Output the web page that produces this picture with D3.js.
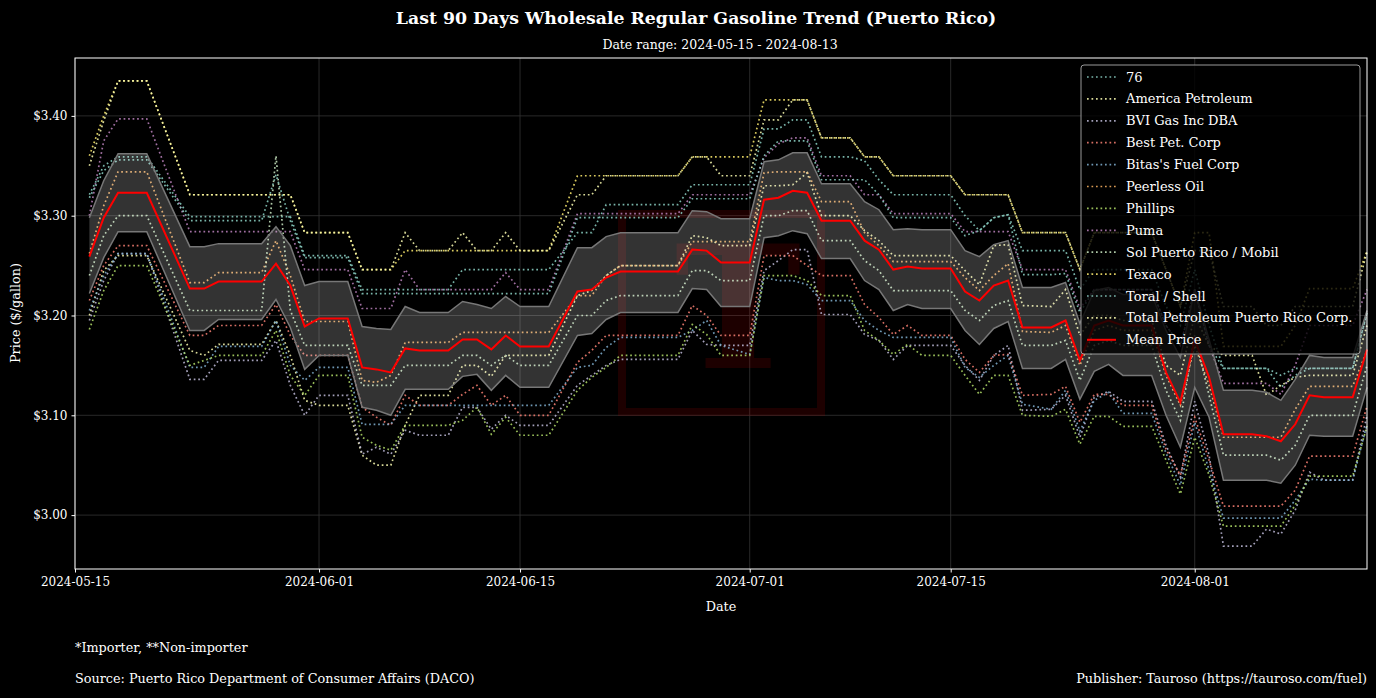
<!DOCTYPE html>
<html>
<head>
<meta charset="utf-8">
<script src="https://d3js.org/d3.v7.min.js"></script>
<style>
  body { margin: 0; background: #000; }
  svg { display: block; font-family: "DejaVu Serif", serif; }
</style>
</head>
<body>
<svg id="chart" width="1376" height="698"></svg>
<script>
// report dates (one row of values per date)
const dates = [
  "2024-05-16","2024-05-17","2024-05-18","2024-05-20","2024-05-23","2024-05-24","2024-05-25","2024-05-28","2024-05-29","2024-05-30",
  "2024-05-31","2024-06-01","2024-06-03","2024-06-04","2024-06-05","2024-06-06","2024-06-07","2024-06-08","2024-06-10","2024-06-11",
  "2024-06-12","2024-06-13","2024-06-14","2024-06-15","2024-06-17","2024-06-19","2024-06-20","2024-06-21","2024-06-22","2024-06-26",
  "2024-06-27","2024-06-28","2024-06-29","2024-07-01","2024-07-02","2024-07-03","2024-07-04","2024-07-05","2024-07-06","2024-07-08",
  "2024-07-09","2024-07-10","2024-07-11","2024-07-12","2024-07-13","2024-07-15","2024-07-16","2024-07-17","2024-07-18","2024-07-19",
  "2024-07-20","2024-07-22","2024-07-23","2024-07-24","2024-07-25","2024-07-26","2024-07-27","2024-07-29","2024-07-30","2024-07-31",
  "2024-08-01","2024-08-02","2024-08-03","2024-08-05","2024-08-06","2024-08-07","2024-08-08","2024-08-09","2024-08-10","2024-08-12",
  "2024-08-13"
];

const meanPrice = [
  3.259,3.298,3.323,3.323,3.227,3.227,3.234,3.234,3.252,3.230,
  3.189,3.197,3.197,3.148,3.146,3.143,3.167,3.165,3.165,3.176,
  3.176,3.166,3.180,3.169,3.169,3.224,3.226,3.238,3.244,3.244,
  3.266,3.265,3.253,3.253,3.316,3.318,3.325,3.323,3.295,3.295,
  3.275,3.266,3.246,3.249,3.247,3.247,3.224,3.215,3.230,3.235,
  3.188,3.188,3.195,3.155,3.190,3.195,3.190,3.190,3.143,3.113,
  3.176,3.138,3.081,3.081,3.079,3.074,3.091,3.120,3.118,3.118,
  3.166
];
// mean + std / mean - std
const bandHigh = [
  3.298,3.335,3.362,3.362,3.269,3.269,3.272,3.272,3.289,3.270,
  3.230,3.234,3.234,3.189,3.187,3.186,3.209,3.203,3.203,3.214,
  3.211,3.207,3.219,3.209,3.209,3.268,3.268,3.279,3.283,3.283,
  3.305,3.304,3.297,3.297,3.354,3.356,3.363,3.363,3.332,3.332,
  3.314,3.306,3.286,3.287,3.286,3.286,3.265,3.259,3.271,3.275,
  3.228,3.228,3.233,3.192,3.225,3.228,3.221,3.221,3.185,3.158,
  3.226,3.176,3.125,3.125,3.123,3.115,3.136,3.160,3.158,3.158,
  3.205
];
const bandLow = [
  3.222,3.258,3.284,3.284,3.185,3.185,3.196,3.196,3.216,3.188,
  3.146,3.160,3.160,3.108,3.105,3.100,3.126,3.126,3.126,3.139,
  3.141,3.125,3.140,3.128,3.128,3.180,3.182,3.196,3.203,3.203,
  3.227,3.226,3.209,3.209,3.278,3.280,3.285,3.282,3.257,3.257,
  3.235,3.226,3.205,3.211,3.207,3.207,3.185,3.171,3.187,3.194,
  3.147,3.147,3.156,3.116,3.144,3.151,3.140,3.140,3.100,3.068,
  3.128,3.098,3.035,3.035,3.035,3.032,3.050,3.080,3.079,3.079,
  3.128
];

const p76 = [
  3.321,3.350,3.359,3.359,3.299,3.299,3.299,3.299,3.299,3.299,
  3.260,3.260,3.260,3.226,3.226,3.226,3.226,3.226,3.226,3.246,
  3.246,3.246,3.246,3.246,3.246,3.283,3.283,3.311,3.311,3.311,
  3.331,3.331,3.331,3.331,3.387,3.387,3.396,3.396,3.359,3.359,
  3.355,3.336,3.321,3.321,3.321,3.321,3.300,3.285,3.298,3.301,
  3.265,3.265,3.265,3.226,3.246,3.246,3.246,3.246,3.209,3.190,
  3.246,3.190,3.147,3.147,3.147,3.128,3.140,3.147,3.147,3.147,
  3.203
];
const pAmerica = [
  3.200,3.245,3.260,3.260,3.165,3.160,3.171,3.171,3.195,3.160,
  3.115,3.110,3.110,3.060,3.050,3.050,3.090,3.120,3.120,3.150,
  3.150,3.139,3.160,3.160,3.160,3.220,3.225,3.240,3.250,3.250,
  3.280,3.278,3.270,3.270,3.330,3.330,3.331,3.343,3.300,3.300,
  3.285,3.275,3.260,3.260,3.260,3.260,3.245,3.231,3.270,3.271,
  3.210,3.209,3.226,3.180,3.200,3.200,3.195,3.195,3.150,3.140,
  3.200,3.170,3.160,3.160,3.120,3.130,3.138,3.140,3.140,3.140,
  3.190
];
const pBVI = [
  3.195,3.235,3.262,3.262,3.136,3.136,3.155,3.155,3.175,3.130,
  3.100,3.120,3.120,3.061,3.068,3.061,3.085,3.080,3.080,3.108,
  3.108,3.086,3.100,3.090,3.090,3.130,3.140,3.150,3.156,3.156,
  3.185,3.171,3.170,3.170,3.245,3.255,3.266,3.266,3.201,3.201,
  3.181,3.175,3.156,3.170,3.170,3.170,3.150,3.135,3.160,3.170,
  3.105,3.106,3.120,3.078,3.118,3.124,3.114,3.114,3.070,3.038,
  3.114,3.060,2.969,2.969,2.986,2.981,3.005,3.043,3.035,3.035,
  3.100
];
const pBest = [
  3.215,3.250,3.270,3.270,3.180,3.180,3.190,3.190,3.211,3.180,
  3.160,3.160,3.160,3.108,3.098,3.090,3.120,3.110,3.110,3.121,
  3.130,3.110,3.120,3.100,3.100,3.153,3.165,3.180,3.180,3.180,
  3.210,3.200,3.180,3.180,3.260,3.260,3.260,3.250,3.240,3.240,
  3.211,3.198,3.181,3.190,3.180,3.180,3.156,3.143,3.160,3.161,
  3.120,3.121,3.129,3.093,3.121,3.121,3.110,3.110,3.066,3.040,
  3.098,3.055,3.009,3.009,3.009,3.009,3.025,3.059,3.059,3.059,
  3.109
];
const pBitas = [
  3.205,3.240,3.262,3.262,3.148,3.148,3.169,3.169,3.195,3.150,
  3.135,3.148,3.148,3.091,3.091,3.091,3.110,3.110,3.110,3.110,
  3.110,3.110,3.110,3.110,3.110,3.148,3.150,3.168,3.178,3.178,
  3.185,3.195,3.170,3.161,3.238,3.235,3.235,3.231,3.215,3.215,
  3.195,3.185,3.178,3.178,3.178,3.178,3.148,3.138,3.150,3.160,
  3.111,3.106,3.125,3.084,3.115,3.123,3.102,3.102,3.062,3.030,
  3.093,3.045,2.997,2.997,2.997,2.997,3.015,3.036,3.035,3.035,
  3.091
];
const pPeerless = [
  3.262,3.310,3.344,3.344,3.233,3.233,3.243,3.243,3.275,3.240,
  3.194,3.194,3.194,3.135,3.133,3.140,3.173,3.173,3.173,3.183,
  3.183,3.183,3.183,3.183,3.183,3.220,3.220,3.240,3.250,3.250,
  3.274,3.274,3.274,3.274,3.343,3.344,3.344,3.344,3.314,3.314,
  3.283,3.270,3.254,3.254,3.254,3.254,3.238,3.225,3.240,3.252,
  3.184,3.183,3.190,3.150,3.185,3.190,3.185,3.185,3.140,3.110,
  3.170,3.130,3.078,3.078,3.078,3.078,3.106,3.129,3.129,3.129,
  3.165
];
const pPhillips = [
  3.186,3.225,3.250,3.250,3.150,3.155,3.160,3.160,3.185,3.140,
  3.120,3.140,3.140,3.078,3.070,3.065,3.090,3.090,3.090,3.095,
  3.108,3.081,3.098,3.080,3.080,3.125,3.138,3.148,3.160,3.160,
  3.191,3.181,3.160,3.160,3.240,3.240,3.240,3.235,3.220,3.220,
  3.185,3.175,3.161,3.171,3.160,3.160,3.140,3.121,3.140,3.140,
  3.100,3.099,3.106,3.071,3.099,3.099,3.089,3.089,3.055,3.021,
  3.078,3.040,2.989,2.989,2.989,2.989,3.010,3.039,3.039,3.039,
  3.089
];
const pPuma = [
  3.300,3.375,3.397,3.397,3.284,3.284,3.284,3.284,3.284,3.284,
  3.246,3.246,3.246,3.207,3.207,3.207,3.246,3.226,3.226,3.226,
  3.226,3.226,3.243,3.226,3.226,3.302,3.302,3.302,3.302,3.302,
  3.321,3.321,3.321,3.321,3.358,3.372,3.378,3.378,3.340,3.340,
  3.321,3.321,3.302,3.302,3.302,3.302,3.284,3.284,3.284,3.284,
  3.246,3.246,3.246,3.207,3.226,3.226,3.226,3.226,3.190,3.170,
  3.226,3.170,3.132,3.132,3.132,3.121,3.150,3.190,3.190,3.190,
  3.226
];
const pSol = [
  3.240,3.280,3.300,3.300,3.205,3.205,3.205,3.205,3.360,3.205,
  3.170,3.170,3.170,3.130,3.130,3.130,3.150,3.150,3.150,3.160,
  3.160,3.150,3.160,3.150,3.150,3.200,3.200,3.215,3.220,3.220,
  3.245,3.245,3.235,3.235,3.300,3.300,3.305,3.305,3.275,3.275,
  3.255,3.245,3.225,3.225,3.225,3.225,3.205,3.195,3.210,3.215,
  3.170,3.170,3.175,3.135,3.170,3.175,3.170,3.170,3.125,3.095,
  3.180,3.120,3.060,3.060,3.060,3.055,3.070,3.100,3.100,3.100,
  3.150
];
const pTexaco = [
  3.360,3.400,3.435,3.435,3.321,3.321,3.321,3.321,3.321,3.321,
  3.283,3.283,3.283,3.246,3.246,3.246,3.265,3.265,3.265,3.265,
  3.265,3.265,3.265,3.265,3.265,3.340,3.340,3.340,3.340,3.340,
  3.359,3.359,3.359,3.359,3.416,3.416,3.416,3.416,3.378,3.378,
  3.359,3.359,3.340,3.340,3.340,3.340,3.321,3.321,3.321,3.321,
  3.283,3.283,3.283,3.246,3.283,3.283,3.283,3.283,3.246,3.209,
  3.283,3.283,3.169,3.169,3.169,3.169,3.190,3.227,3.227,3.227,
  3.264
];
const pToral = [
  3.318,3.345,3.356,3.356,3.295,3.295,3.295,3.295,3.341,3.295,
  3.258,3.258,3.258,3.222,3.222,3.222,3.222,3.222,3.222,3.222,
  3.222,3.222,3.222,3.222,3.222,3.298,3.298,3.298,3.298,3.298,
  3.317,3.317,3.317,3.317,3.360,3.375,3.375,3.375,3.336,3.336,
  3.336,3.321,3.298,3.298,3.298,3.298,3.280,3.285,3.298,3.301,
  3.241,3.241,3.242,3.203,3.226,3.226,3.226,3.226,3.190,3.170,
  3.226,3.170,3.147,3.147,3.147,3.140,3.147,3.147,3.147,3.147,
  3.203
];
const pTotal = [
  3.350,3.395,3.435,3.435,3.321,3.321,3.321,3.321,3.321,3.321,
  3.283,3.283,3.283,3.246,3.246,3.246,3.283,3.265,3.265,3.283,
  3.265,3.265,3.283,3.265,3.265,3.321,3.321,3.340,3.340,3.340,
  3.359,3.359,3.340,3.340,3.396,3.396,3.416,3.416,3.378,3.378,
  3.359,3.359,3.340,3.340,3.340,3.340,3.321,3.321,3.321,3.321,
  3.283,3.283,3.283,3.246,3.283,3.283,3.283,3.283,3.246,3.209,
  3.265,3.265,3.209,3.209,3.190,3.190,3.209,3.209,3.209,3.209,
  3.264
];

const seriesNames = ["76","America Petroleum","BVI Gas Inc DBA","Best Pet. Corp","Bitas's Fuel Corp","Peerless Oil",
  "Phillips","Puma","Sol Puerto Rico / Mobil","Texaco","Toral / Shell","Total Petroleum Puerto Rico Corp."];
const seriesValues = [p76, pAmerica, pBVI, pBest, pBitas, pPeerless, pPhillips, pPuma, pSol, pTexaco, pToral, pTotal];
const seriesColors = ["#8dd3c7","#feffb3","#bfbbd9","#fa8174","#81b1d2","#fdb462",
  "#b3de69","#bc82bd","#ccebc4","#ffed6f","#8dd3c7","#feffb3"];

const yTicks = [3.0, 3.1, 3.2, 3.3, 3.4];
const xTicks = ["2024-05-15","2024-06-01","2024-06-15","2024-07-01","2024-07-15","2024-08-01"];
const xStart = "2024-05-15", xEnd = "2024-08-13";

// ---- layout
const svg = d3.select("#chart");
const L = 75, R = 1367, T = 58, B = 569;
const parse = d3.utcParse("%Y-%m-%d");
const dt = dates.map(parse);

const x = d3.scaleUtc().domain([parse(xStart), parse(xEnd)]).range([L, R]);
const y = d3.scaleLinear().domain([2.946, 3.458]).range([B, T]);

svg.append("rect").attr("width", 1376).attr("height", 698).attr("fill", "#000");

// grid
svg.append("g").selectAll("line").data(yTicks).enter().append("line")
  .attr("x1", L).attr("x2", R).attr("y1", d => y(d)).attr("y2", d => y(d))
  .attr("stroke", "#333").attr("stroke-width", 0.8);
svg.append("g").selectAll("line").data(xTicks).enter().append("line")
  .attr("x1", d => x(parse(d))).attr("x2", d => x(parse(d))).attr("y1", T).attr("y2", B)
  .attr("stroke", "#333").attr("stroke-width", 0.8);

// watermark
const wm = svg.append("g").attr("opacity", 0.14);
wm.append("rect").attr("x", 622).attr("y", 214).attr("width", 199).attr("height", 198)
  .attr("fill", "none").attr("stroke", "#c00").attr("stroke-width", 8);
wm.append("text").attr("x", 738).attr("y", 368).attr("text-anchor", "middle")
  .attr("font-size", 170).attr("font-weight", "bold").attr("fill", "#c00").text("T");

// supplier series
const line = d3.line().x((d, i) => x(dt[i])).y(d => y(d));
svg.append("g").selectAll("path").data(seriesValues).enter().append("path")
  .attr("d", d => line(d))
  .attr("fill", "none")
  .attr("stroke", (d, i) => seriesColors[i])
  .attr("stroke-width", 1.7)
  .attr("stroke-dasharray", "1.7,2.8")
  .attr("opacity", 0.85);

// std band
const band = d3.area().x((d, i) => x(dt[i])).y0((d, i) => y(bandLow[i])).y1((d, i) => y(bandHigh[i]));
svg.append("path").attr("d", band(dates)).attr("fill", "#fff").attr("opacity", 0.2);
svg.append("path").attr("d", line(bandHigh)).attr("fill", "none").attr("stroke", "#777").attr("stroke-width", 1.5);
svg.append("path").attr("d", line(bandLow)).attr("fill", "none").attr("stroke", "#777").attr("stroke-width", 1.5);

// mean
svg.append("path").attr("d", line(meanPrice)).attr("fill", "none").attr("stroke", "#ff0000").attr("stroke-width", 2);

// frame
svg.append("rect").attr("x", L).attr("y", T).attr("width", R - L).attr("height", B - T)
  .attr("fill", "none").attr("stroke", "#fff").attr("stroke-width", 1);

// axes
const yAxis = svg.append("g").attr("transform", `translate(${L},0)`)
  .call(d3.axisLeft(y).tickValues(yTicks).tickSize(3.5).tickPadding(4).tickFormat(d => "$" + d.toFixed(2)));
const xAxis = svg.append("g").attr("transform", `translate(0,${B})`)
  .call(d3.axisBottom(x).tickValues(xTicks.map(parse)).tickSize(3.5).tickPadding(5).tickFormat(d3.utcFormat("%Y-%m-%d")));
[yAxis, xAxis].forEach(a => {
  a.attr("font-family", null).attr("font-size", null);
  a.select(".domain").remove();
  a.selectAll("line").attr("stroke", "#fff");
  a.selectAll("text").attr("fill", "#fff").attr("font-size", 12);
});

// labels
const txt = (xx, yy, s, size, anchor, weight) => svg.append("text")
  .attr("x", xx).attr("y", yy).attr("dy", "0.35em").attr("fill", "#fff")
  .attr("font-size", size).attr("text-anchor", anchor || "start")
  .attr("font-weight", weight || "normal").text(s);
txt(696, 18, "Last 90 Days Wholesale Regular Gasoline Trend (Puerto Rico)", 17.3, "middle", "bold");
txt(720, 45, "Date range: 2024-05-15 - 2024-08-13", 12.5, "middle");
txt(721, 607, "Date", 12.8, "middle");
svg.append("text").attr("transform", "translate(16,313) rotate(-90)").attr("dy", "0.35em")
  .attr("text-anchor", "middle").attr("fill", "#fff").attr("font-size", 12.8).text("Price ($/gallon)");
txt(75, 648, "*Importer, **Non-importer", 12.8);
txt(75, 679, "Source: Puerto Rico Department of Consumer Affairs (DACO)", 12.8);
txt(1367, 679, "Publisher: Tauroso (https://tauroso.com/fuel)", 12.8, "end");

// legend
const lg = svg.append("g");
lg.append("rect").attr("x", 1081).attr("y", 65).attr("width", 279).attr("height", 289).attr("rx", 3)
  .attr("fill", "#000").attr("fill-opacity", 0.8).attr("stroke", "#999").attr("stroke-width", 1);
const legendItems = seriesNames.map((n, i) => ({ name: n, color: seriesColors[i], dotted: true }))
  .concat([{ name: "Mean Price", color: "#ff0000", dotted: false }]);
legendItems.forEach((d, i) => {
  const yy = 77 + i * 21.9;
  lg.append("line").attr("x1", 1087).attr("x2", 1116).attr("y1", yy).attr("y2", yy)
    .attr("stroke", d.color).attr("stroke-width", d.dotted ? 1.7 : 2)
    .attr("stroke-dasharray", d.dotted ? "1.7,2.8" : null).attr("opacity", d.dotted ? 0.85 : 1);
  lg.append("text").attr("x", 1126).attr("y", yy).attr("dy", "0.35em").attr("fill", "#fff")
    .attr("font-size", 13).text(d.name);
});
</script>
</body>
</html>
